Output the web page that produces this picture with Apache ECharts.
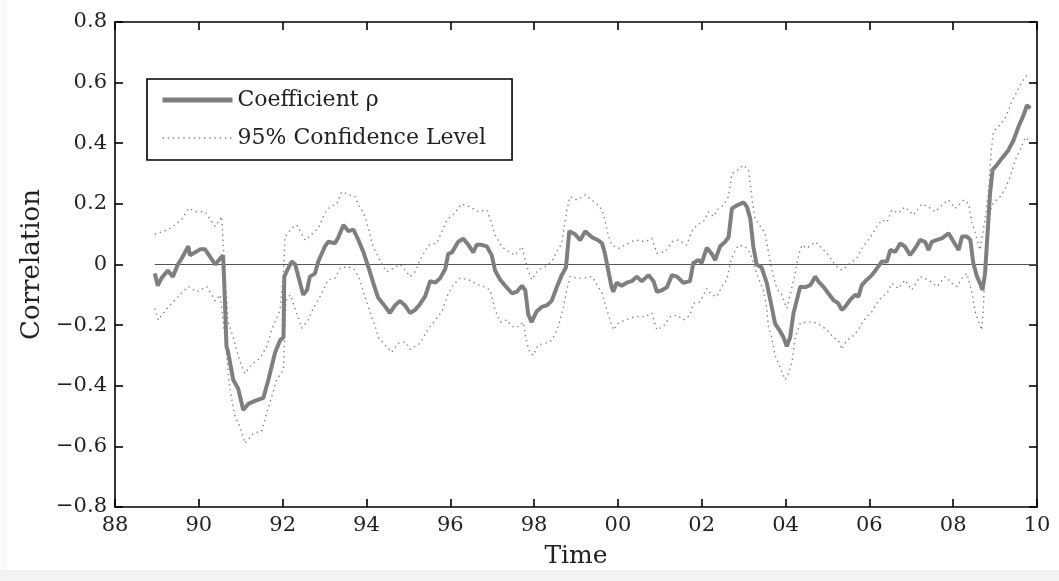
<!DOCTYPE html>
<html>
<head>
<meta charset="utf-8">
<script src="https://cdn.jsdelivr.net/npm/echarts@6/dist/echarts.min.js"></script>
<style>
html,body{margin:0;padding:0;background:#fff;}
#chart{width:1059px;height:581px;}
</style>
</head>
<body>
<div id="chart"></div>
<script>
// ---- data ----
const xTickLabels = ['88','90','92','94','96','98','00','02','04','06','08','10'];
const yTickLabels = ['\u22120.8','\u22120.6','\u22120.4','\u22120.2','0','0.2','0.4','0.6','0.8'];
const legendNames = ['Coefficient \u03c1', '95% Confidence Level'];

const coefYears = [1988.95,1989.02,1989.11,1989.26,1989.38,1989.50,1989.59,1989.75,1989.79,1989.91,
1990.03,1990.15,1990.27,1990.39,1990.51,1990.58,1990.63,1990.66,1990.70,1990.82,
1990.94,1991.06,1991.18,1991.34,1991.54,1991.66,1991.82,1991.94,1992.02,1992.04,
1992.14,1992.22,1992.30,1992.49,1992.58,1992.65,1992.77,1992.85,1993.01,1993.09,
1993.25,1993.33,1993.45,1993.57,1993.69,1993.81,1993.93,1994.05,1994.16,1994.28,
1994.40,1994.56,1994.68,1994.80,1994.92,1995.04,1995.16,1995.28,1995.40,1995.52,
1995.64,1995.76,1995.88,1995.95,1996.04,1996.19,1996.31,1996.43,1996.55,1996.63,
1996.75,1996.87,1996.99,1997.07,1997.19,1997.31,1997.47,1997.59,1997.71,1997.79,
1997.86,1997.94,1998.06,1998.18,1998.30,1998.42,1998.54,1998.66,1998.76,1998.84,
1998.98,1999.10,1999.22,1999.38,1999.53,1999.62,1999.69,1999.77,1999.85,1999.89,
1999.97,2000.09,2000.21,2000.33,2000.45,2000.57,2000.73,2000.85,2000.93,2001.05,
2001.17,2001.29,2001.41,2001.56,2001.72,2001.80,2001.92,2002.00,2002.12,2002.24,
2002.32,2002.44,2002.56,2002.64,2002.72,2002.84,2003.00,2003.08,2003.16,2003.23,
2003.31,2003.43,2003.55,2003.67,2003.75,2003.87,2003.95,2004.03,2004.11,2004.19,
2004.27,2004.35,2004.47,2004.59,2004.71,2004.79,2004.90,2005.02,2005.14,2005.26,
2005.34,2005.42,2005.54,2005.66,2005.74,2005.82,2005.94,2006.06,2006.18,2006.30,
2006.42,2006.50,2006.62,2006.74,2006.85,2006.97,2007.09,2007.21,2007.33,2007.41,
2007.49,2007.61,2007.73,2007.89,2008.01,2008.13,2008.21,2008.33,2008.41,2008.48,
2008.57,2008.64,2008.70,2008.76,2008.83,2008.88,2008.94,2009.04,2009.16,2009.32,
2009.44,2009.56,2009.68,2009.76,2009.84];

const coefValues = [-0.03,-0.07,-0.045,-0.02,-0.04,0.0,0.02,0.06,0.03,0.04,
0.05,0.05,0.025,0.0,0.02,0.03,-0.15,-0.27,-0.29,-0.38,
-0.41,-0.48,-0.46,-0.45,-0.44,-0.38,-0.29,-0.25,-0.24,-0.04,
-0.01,0.01,0.0,-0.10,-0.085,-0.04,-0.03,0.01,0.06,0.075,
0.07,0.09,0.13,0.11,0.115,0.08,0.04,-0.01,-0.06,-0.11,
-0.13,-0.16,-0.135,-0.12,-0.135,-0.16,-0.15,-0.13,-0.105,-0.055,
-0.06,-0.045,-0.015,0.035,0.04,0.075,0.085,0.065,0.04,0.065,
0.065,0.06,0.03,-0.02,-0.05,-0.07,-0.095,-0.09,-0.07,-0.085,
-0.165,-0.19,-0.155,-0.14,-0.135,-0.12,-0.075,-0.035,-0.01,0.11,
0.10,0.08,0.11,0.09,0.08,0.07,0.037,-0.02,-0.075,-0.09,
-0.06,-0.07,-0.06,-0.055,-0.04,-0.055,-0.035,-0.055,-0.09,-0.085,
-0.075,-0.035,-0.04,-0.06,-0.055,0.005,0.015,0.005,0.055,0.035,
0.015,0.06,0.075,0.09,0.185,0.195,0.205,0.19,0.15,0.06,
0.0,-0.01,-0.06,-0.14,-0.195,-0.22,-0.24,-0.27,-0.24,-0.16,
-0.117,-0.073,-0.075,-0.068,-0.04,-0.057,-0.073,-0.095,-0.117,-0.128,
-0.15,-0.14,-0.117,-0.10,-0.106,-0.068,-0.05,-0.035,-0.013,0.01,
0.01,0.048,0.042,0.07,0.059,0.031,0.053,0.081,0.075,0.048,
0.075,0.081,0.086,0.103,0.075,0.048,0.092,0.092,0.081,0.004,
-0.04,-0.062,-0.084,-0.03,0.125,0.235,0.312,0.328,0.35,0.378,
0.41,0.455,0.493,0.526,0.515];

const upperBand = [[1988.95,0.10],[1989.26,0.114],[1989.59,0.147],[1989.75,0.185],[1989.95,0.174],
[1990.15,0.174],[1990.39,0.125],[1990.55,0.158],[1990.58,0.07],[1990.70,-0.19],[1990.82,-0.24],
[1990.98,-0.32],[1991.10,-0.36],[1991.26,-0.33],[1991.46,-0.31],[1991.62,-0.27],[1991.78,-0.20],
[1991.94,-0.15],[1992.02,-0.02],[1992.06,0.092],[1992.22,0.12],[1992.34,0.13],[1992.54,0.08],
[1992.85,0.12],[1993.01,0.17],[1993.13,0.19],[1993.29,0.20],[1993.41,0.24],[1993.57,0.23],
[1993.73,0.224],[1993.81,0.196],[1993.93,0.17],[1994.01,0.136],[1994.16,0.059],[1994.37,0.0],
[1994.48,-0.024],[1994.64,-0.013],[1994.80,0.0],[1994.92,-0.018],[1995.04,-0.04],[1995.16,-0.024],
[1995.28,0.015],[1995.48,0.064],[1995.68,0.07],[1995.92,0.147],[1996.11,0.17],[1996.27,0.20],
[1996.47,0.19],[1996.67,0.174],[1996.87,0.18],[1996.99,0.136],[1997.07,0.097],[1997.23,0.059],
[1997.39,0.042],[1997.55,0.031],[1997.71,0.059],[1997.83,-0.007],[1997.94,-0.05],[1998.10,-0.018],
[1998.26,-0.007],[1998.42,0.009],[1998.54,0.042],[1998.66,0.07],[1998.78,0.18],[1998.86,0.224],
[1999.02,0.213],[1999.22,0.23],[1999.38,0.213],[1999.53,0.196],[1999.62,0.18],[1999.69,0.147],
[1999.77,0.097],[1999.85,0.064],[2000.01,0.053],[2000.17,0.064],[2000.41,0.081],[2000.65,0.075],
[2000.81,0.086],[2000.93,0.037],[2001.13,0.042],[2001.29,0.075],[2001.44,0.081],[2001.64,0.064],
[2001.76,0.108],[2001.88,0.13],[2002.04,0.141],[2002.16,0.174],[2002.28,0.158],[2002.40,0.185],
[2002.52,0.196],[2002.64,0.224],[2002.72,0.30],[2002.84,0.31],[2003.00,0.328],[2003.12,0.31],
[2003.20,0.218],[2003.27,0.152],[2003.51,0.103],[2003.59,0.042],[2003.67,-0.018],[2003.79,-0.079],
[2003.91,-0.10],[2004.03,-0.145],[2004.23,-0.03],[2004.31,0.031],[2004.39,0.064],[2004.51,0.053],
[2004.71,0.075],[2004.87,0.053],[2005.03,0.031],[2005.18,-0.002],[2005.34,-0.018],[2005.46,-0.007],
[2005.58,0.009],[2005.70,0.02],[2005.82,0.053],[2005.94,0.075],[2006.06,0.097],[2006.18,0.125],
[2006.30,0.147],[2006.42,0.14],[2006.54,0.18],[2006.69,0.169],[2006.85,0.19],[2007.05,0.163],
[2007.25,0.20],[2007.41,0.19],[2007.57,0.174],[2007.77,0.20],[2007.89,0.213],[2008.05,0.185],
[2008.25,0.213],[2008.37,0.20],[2008.45,0.136],[2008.53,0.103],[2008.64,0.048],[2008.76,0.147],
[2008.84,0.235],[2008.91,0.378],[2008.96,0.438],[2009.08,0.455],[2009.24,0.482],[2009.40,0.537],
[2009.52,0.57],[2009.64,0.603],[2009.76,0.625],[2009.84,0.62]];

const lowerBand = [[1988.95,-0.145],[1989.03,-0.183],[1989.27,-0.14],[1989.51,-0.106],[1989.75,-0.073],
[1989.95,-0.09],[1990.19,-0.073],[1990.39,-0.12],[1990.51,-0.10],[1990.63,-0.25],[1990.74,-0.41],
[1990.86,-0.50],[1990.98,-0.535],[1991.10,-0.59],[1991.30,-0.557],[1991.50,-0.55],[1991.62,-0.49],
[1991.74,-0.436],[1991.86,-0.38],[1992.02,-0.348],[1992.08,-0.12],[1992.18,-0.10],[1992.46,-0.21],
[1992.61,-0.183],[1992.73,-0.145],[1992.89,-0.106],[1993.09,-0.05],[1993.25,-0.045],[1993.37,-0.013],
[1993.53,-0.007],[1993.69,-0.013],[1993.81,-0.04],[1993.89,-0.073],[1994.09,-0.16],[1994.21,-0.205],
[1994.28,-0.24],[1994.44,-0.265],[1994.60,-0.29],[1994.76,-0.26],[1994.92,-0.255],[1995.04,-0.28],
[1995.28,-0.26],[1995.44,-0.22],[1995.64,-0.183],[1995.80,-0.156],[1995.92,-0.106],[1996.04,-0.073],
[1996.23,-0.045],[1996.43,-0.05],[1996.59,-0.062],[1996.79,-0.073],[1996.95,-0.084],[1997.07,-0.15],
[1997.19,-0.19],[1997.35,-0.183],[1997.47,-0.205],[1997.63,-0.205],[1997.74,-0.19],[1997.83,-0.26],
[1997.90,-0.29],[1997.98,-0.30],[1998.10,-0.265],[1998.26,-0.26],[1998.38,-0.255],[1998.46,-0.24],
[1998.58,-0.205],[1998.70,-0.14],[1998.78,-0.084],[1998.86,-0.04],[1999.02,-0.045],[1999.18,-0.045],
[1999.38,-0.04],[1999.46,-0.057],[1999.62,-0.095],[1999.81,-0.183],[1999.89,-0.216],[2000.01,-0.194],
[2000.17,-0.183],[2000.41,-0.172],[2000.65,-0.172],[2000.81,-0.16],[2000.93,-0.216],[2001.09,-0.203],
[2001.25,-0.172],[2001.41,-0.167],[2001.56,-0.183],[2001.72,-0.167],[2001.80,-0.128],[2001.96,-0.123],
[2002.12,-0.079],[2002.24,-0.10],[2002.36,-0.106],[2002.48,-0.073],[2002.60,-0.05],[2002.68,0.004],
[2002.76,0.037],[2002.88,0.064],[2003.04,0.059],[2003.16,0.037],[2003.31,-0.03],[2003.47,-0.084],
[2003.55,-0.14],[2003.59,-0.205],[2003.67,-0.24],[2003.75,-0.30],[2003.83,-0.326],[2003.91,-0.354],
[2003.99,-0.38],[2004.07,-0.36],[2004.15,-0.326],[2004.23,-0.24],[2004.35,-0.194],[2004.51,-0.19],
[2004.67,-0.19],[2004.83,-0.20],[2004.99,-0.216],[2005.14,-0.24],[2005.26,-0.25],[2005.34,-0.28],
[2005.46,-0.25],[2005.58,-0.24],[2005.74,-0.216],[2005.82,-0.194],[2005.94,-0.172],[2006.06,-0.156],
[2006.18,-0.128],[2006.30,-0.106],[2006.42,-0.095],[2006.54,-0.062],[2006.69,-0.079],[2006.85,-0.051],
[2007.01,-0.084],[2007.21,-0.04],[2007.41,-0.051],[2007.61,-0.073],[2007.81,-0.04],[2007.97,-0.062],
[2008.09,-0.073],[2008.21,-0.045],[2008.33,-0.029],[2008.45,-0.095],[2008.53,-0.16],[2008.60,-0.183],
[2008.68,-0.216],[2008.72,-0.15],[2008.76,0.015],[2008.83,0.125],[2008.92,0.196],[2009.12,0.224],
[2009.24,0.25],[2009.36,0.29],[2009.48,0.345],[2009.60,0.378],[2009.72,0.42],[2009.80,0.41]];

const zeroLine = [[1988.95,0],[2010,0]];

// ---- chart ----
const FONT = 'DejaVu Serif';
const chart = echarts.init(document.getElementById('chart'), null, {renderer:'canvas'});
const axisLine = {show:true, onZero:false, lineStyle:{color:'#000', width:1.6}};
const axisTick = {show:true, inside:true, length:8, lineStyle:{color:'#000', width:1.6}};
const dotted = {color:'#808080', width:1.4, type:[1.4, 3.8]};

chart.setOption({
  backgroundColor:'#ffffff',
  animation:false,
  graphic:[
    {type:'rect', left:0, top:570, shape:{width:1059, height:11}, style:{fill:'#f3f3f3'}, silent:true, z:-10},
    {type:'rect', left:0, top:0, shape:{width:7, height:570}, style:{fill:'#fafafa'}, silent:true, z:-10}
  ],
  grid:{left:115, right:22, top:22, bottom:74, show:false},
  legend:{
    orient:'vertical', left:147, top:79,
    padding:[10, 26, 11, 13], itemGap:16, itemWidth:70, itemHeight:14,
    backgroundColor:'#fff', borderColor:'#000', borderWidth:1.6, borderRadius:0,
    textStyle:{fontFamily:FONT, fontSize:22, color:'#222'},
    data:[
      {name:legendNames[0], itemStyle:{opacity:0}, lineStyle:{width:5, color:'#7f7f7f', type:'solid', opacity:1}},
      {name:legendNames[1], itemStyle:{opacity:0}, lineStyle:{width:1.4, color:'#808080', type:[1.4, 3.8], opacity:1}}
    ],
    selectedMode:false
  },
  xAxis:[
    {type:'value', min:1988, max:2010, interval:2, position:'bottom',
     name:'Time', nameLocation:'middle', nameGap:37,
     nameTextStyle:{fontFamily:FONT, fontSize:25, color:'#222'},
     axisLine:axisLine, axisTick:axisTick, splitLine:{show:false},
     axisLabel:{fontFamily:FONT, fontSize:21, color:'#222', margin:8,
       formatter:v => xTickLabels[Math.round((v-1988)/2)]}},
    {type:'value', min:1988, max:2010, interval:2, position:'top',
     axisLine:axisLine, axisTick:axisTick, splitLine:{show:false}, axisLabel:{show:false}}
  ],
  yAxis:[
    {type:'value', min:-0.8, max:0.8, interval:0.2, position:'left',
     name:'Correlation', nameLocation:'middle', nameGap:66,
     nameTextStyle:{fontFamily:FONT, fontSize:26, color:'#222'},
     axisLine:axisLine, axisTick:axisTick, splitLine:{show:false},
     axisLabel:{fontFamily:FONT, fontSize:21, color:'#222', margin:8,
       formatter:v => yTickLabels[Math.round((v+0.8)/0.2)]}},
    {type:'value', min:-0.8, max:0.8, interval:0.2, position:'right',
     axisLine:axisLine, axisTick:axisTick, splitLine:{show:false}, axisLabel:{show:false}}
  ],
  series:[
    {name:'zero', type:'line', data:zeroLine, symbol:'none', silent:true,
     lineStyle:{color:'#555', width:1}, z:1},
    {name:legendNames[1], type:'line', data:upperBand, symbol:'none', silent:true,
     itemStyle:{color:'#808080'}, lineStyle:dotted, z:2},
    {name:legendNames[1], type:'line', data:lowerBand, symbol:'none', silent:true,
     itemStyle:{color:'#808080'}, lineStyle:dotted, z:2},
    {name:legendNames[0], type:'line', data:coefYears.map((y,i)=>[y, coefValues[i]]),
     symbol:'none', silent:true, itemStyle:{color:'#7f7f7f'}, lineStyle:{color:'#7f7f7f', width:4}, z:3}
  ]
});
</script>
</body>
</html>
